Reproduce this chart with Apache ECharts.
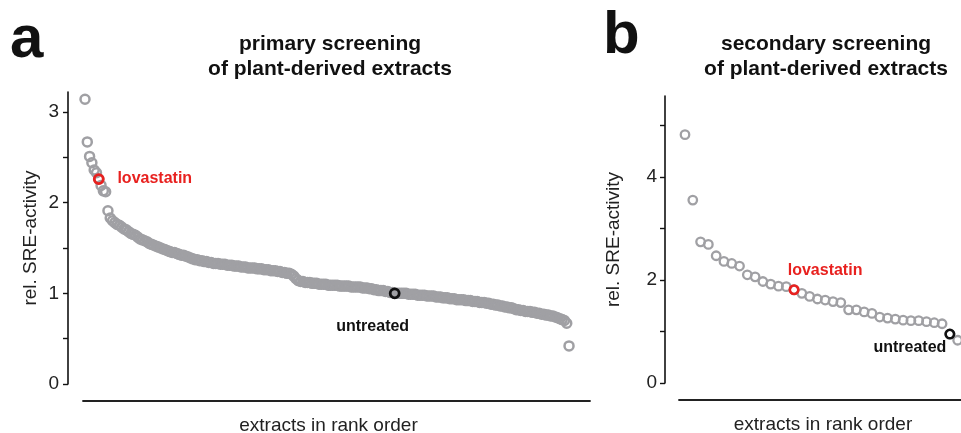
<!DOCTYPE html>
<html>
<head>
<meta charset="utf-8">
<script src="https://cdn.jsdelivr.net/npm/echarts@6/dist/echarts.min.js"></script>
<style>
html,body{margin:0;padding:0;background:#fff;}
#chart{width:961px;height:433px;}
</style>
</head>
<body>
<div id="chart"></div>
<script>
// ---- Data ----
// Panel a: primary screening, extracts in rank order (rel. SRE-activity)
const primaryValues = [
  3.14, 2.67, 2.51, 2.44, 2.36, 2.33, 2.26, 2.19, 2.13, 2.12, 1.91, 1.83, 1.80, 1.78,
  1.76, 1.75, 1.73, 1.71, 1.70, 1.68,
  1.66, 1.65, 1.64, 1.62, 1.60, 1.59, 1.58, 1.57, 1.55, 1.54,
  1.53, 1.52, 1.51, 1.50, 1.49, 1.48, 1.47, 1.46, 1.45, 1.45,
  1.44, 1.43, 1.42, 1.42, 1.41, 1.40, 1.39, 1.38, 1.37, 1.37,
  1.36, 1.36, 1.35, 1.35, 1.34, 1.34, 1.33, 1.33, 1.33, 1.32,
  1.32, 1.32, 1.31, 1.31, 1.31, 1.30, 1.30, 1.30, 1.29, 1.29,
  1.29, 1.28, 1.28, 1.28, 1.28, 1.27, 1.27, 1.27, 1.26, 1.26,
  1.26, 1.25, 1.25, 1.25, 1.24, 1.24, 1.23, 1.23, 1.22, 1.22,
  1.21, 1.19, 1.16, 1.14, 1.13, 1.13, 1.12, 1.12, 1.12, 1.11,
  1.11, 1.11, 1.10, 1.10, 1.10, 1.10, 1.09, 1.09, 1.09, 1.09,
  1.09, 1.08, 1.08, 1.08, 1.08, 1.08, 1.07, 1.07, 1.07, 1.07,
  1.07, 1.06, 1.06, 1.06, 1.05, 1.05, 1.04, 1.04, 1.03, 1.03,
  1.03, 1.02, 1.02, 1.01, 1.01, 1.00, 1.00, 1.00, 1.00, 1.00,
  1.00, 0.99, 0.99, 0.99, 0.99, 0.98, 0.98, 0.98, 0.98, 0.97,
  0.97, 0.97, 0.97, 0.96, 0.96, 0.96, 0.95, 0.95, 0.95, 0.94,
  0.94, 0.94, 0.93, 0.93, 0.93, 0.93, 0.92, 0.92, 0.92, 0.91,
  0.91, 0.91, 0.90, 0.90, 0.90, 0.89, 0.89, 0.88, 0.88, 0.87,
  0.87, 0.86, 0.86, 0.85, 0.85, 0.84, 0.84, 0.83, 0.82, 0.82,
  0.81, 0.81, 0.80, 0.80, 0.80, 0.79, 0.79, 0.78, 0.78, 0.77,
  0.77, 0.76, 0.76, 0.75, 0.75, 0.74, 0.73, 0.72, 0.71, 0.70,
  0.67, 0.42
];
const primaryLovastatinIndex = 6;
const primaryUntreatedIndex = 135;

// Panel b: secondary screening
const secondaryValues = [
  4.82, 3.55, 2.74, 2.69, 2.47, 2.36, 2.32, 2.27, 2.10, 2.06,
  1.97, 1.92, 1.88, 1.87, 1.81, 1.74, 1.68, 1.63, 1.61, 1.58,
  1.56, 1.42, 1.42, 1.38, 1.35, 1.28, 1.26, 1.24, 1.22, 1.21,
  1.21, 1.19, 1.17, 1.15, 0.95, 0.83
];
const secondaryLovastatinIndex = 14;
const secondaryUntreatedIndex = 34;

const primaryTicks = [0, 0.5, 1, 1.5, 2, 2.5, 3];
const primaryTickLabels = [0, 1, 2, 3];
const secondaryTicks = [0, 1, 2, 3, 4, 5];
const secondaryTickLabels = [0, 2, 4];

const labelLovastatin = 'lovastatin';
const labelUntreated = 'untreated';
const titleA = 'primary screening\nof plant-derived extracts';
const titleB = 'secondary screening\nof plant-derived extracts';
const xName = 'extracts in rank order';
const yName = 'rel. SRE-activity';

// ---- Styles ----
const FONT = '"Liberation Sans", Arial, Helvetica, sans-serif';
const GRAY = '#a0a0a4';
const RED = '#e8211f';
const BLACK = '#111111';

function pts(arr) { return arr.map((v, i) => [i, v]); }

function yAxisCfg(grid, max, ticks, labels, offset, gap, margin) {
  return {
    gridIndex: grid, type: 'value', min: 0, max: max, offset: offset,
    axisLine: {show: true, onZero: false, lineStyle: {color: BLACK, width: 1.6}},
    axisTick: {show: true, length: 5, customValues: ticks, lineStyle: {color: BLACK, width: 1.4}},
    axisLabel: {customValues: labels, fontSize: 19, color: '#222', margin: margin, fontFamily: FONT},
    splitLine: {show: false},
    name: yName, nameLocation: 'middle', nameGap: gap, nameMoveOverlap: false,
    nameTextStyle: {fontSize: 19, color: '#222', fontFamily: FONT}
  };
}
function xAxisCfg(grid, min, max, pad) {
  return {
    gridIndex: grid, type: 'value', min: min, max: max, offset: 17,
    axisLine: {show: true, onZero: false, lineStyle: {color: '#222', width: 1.8}},
    axisTick: {show: false}, axisLabel: {show: false}, splitLine: {show: false},
    name: xName, nameLocation: 'middle', nameGap: 15, nameMoveOverlap: false,
    nameTextStyle: {fontSize: 19, color: '#222', fontFamily: FONT, padding: pad}
  };
}
function baseSeries(xi, data, size, bw) {
  return {
    type: 'scatter', xAxisIndex: xi, yAxisIndex: xi, data: data, clip: false,
    symbol: 'circle', symbolSize: size,
    itemStyle: {color: 'rgba(0,0,0,0)', borderColor: GRAY, borderWidth: bw, opacity: 1},
    emphasis: {disabled: true}, silent: true, animation: false
  };
}
function markSeries(xi, values, idx, color, text, offset, size, bw) {
  const s = baseSeries(xi, [[idx, values[idx]]], size, bw);
  s.itemStyle = {color: 'rgba(0,0,0,0)', borderColor: color, borderWidth: bw + 0.3, opacity: 1};
  s.z = 5;
  s.label = {show: true, formatter: text, position: 'inside', offset: offset,
    color: color, fontWeight: 'bold', fontSize: 16, fontFamily: FONT,
    align: 'center', verticalAlign: 'middle'};
  return s;
}

const chart = echarts.init(document.getElementById('chart'), null, {renderer: 'canvas'});
chart.setOption({
  backgroundColor: '#fff',
  animation: false,
  title: [
    {text: 'a', left: 10, top: 10, padding: 0, textStyle: {fontSize: 60, fontWeight: 'bold', color: '#111', fontFamily: FONT}},
    {text: 'b', left: 603, top: 6, padding: 0, textStyle: {fontSize: 60, fontWeight: 'bold', color: '#111', fontFamily: FONT}},
    {text: titleA, left: 330, top: 32, padding: 0, textAlign: 'center',
      textStyle: {fontSize: 21, fontWeight: 'bold', color: '#111', lineHeight: 25, fontFamily: FONT}},
    {text: titleB, left: 826, top: 32, padding: 0, textAlign: 'center',
      textStyle: {fontSize: 21, fontWeight: 'bold', color: '#111', lineHeight: 25, fontFamily: FONT}}
  ],
  grid: [
    {left: 83, top: 92, width: 507, height: 292, outerBoundsMode: 'none', containLabel: false},
    {left: 679, top: 96, width: 282, height: 287, outerBoundsMode: 'none', containLabel: false}
  ],
  xAxis: [xAxisCfg(0, -0.872, 220.14, [0, 16, 0, 0]), xAxisCfg(1, -0.77, 35.43, [0, 0, 0, 6])],
  yAxis: [
    yAxisCfg(0, 3.22, primaryTicks, primaryTickLabels, 15, 28, 9),
    yAxisCfg(1, 5.57, secondaryTicks, secondaryTickLabels, 14, 42, 8)
  ],
  series: [
    baseSeries(0, pts(primaryValues), 9, 2.5),
    markSeries(0, primaryValues, primaryLovastatinIndex, RED, labelLovastatin, [56, 0], 9, 2.5),
    markSeries(0, primaryValues, primaryUntreatedIndex, BLACK, labelUntreated, [-22, 33], 9, 2.5),
    baseSeries(1, pts(secondaryValues), 8.5, 2.3),
    markSeries(1, secondaryValues, secondaryLovastatinIndex, RED, labelLovastatin, [31, -19], 8.5, 2.3),
    markSeries(1, secondaryValues, secondaryUntreatedIndex, BLACK, labelUntreated, [-40, 14], 8.5, 2.3)
  ]
});
</script>
</body>
</html>
